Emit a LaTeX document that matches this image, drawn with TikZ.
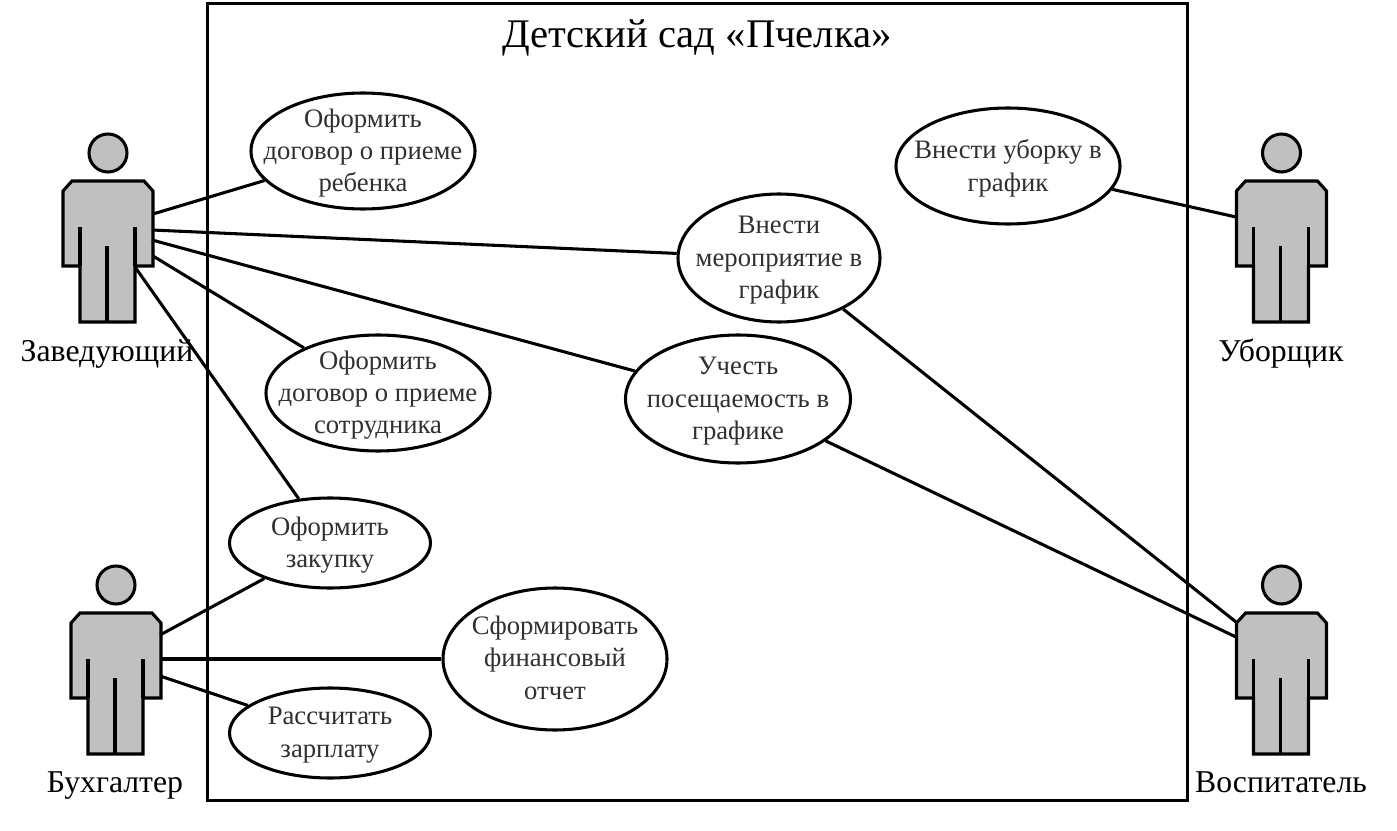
\documentclass[tikz,border=0pt]{standalone}
\usepackage{fontspec}
\setmainfont{Liberation Serif}
\usetikzlibrary{shapes.geometric}
\definecolor{actorgrey}{HTML}{C0C0C0}
\definecolor{usetext}{HTML}{303030}
\tikzset{
  x=0.75pt,y=-0.75pt,
  ln/.style={line width=2.3pt,line join=miter},
  usecase/.style={ellipse,draw,line width=2.3pt,fill=white,inner sep=0pt},
  casetext/.style={inner sep=0pt,align=center,text=usetext,font=\fontsize{20}{24.3}\selectfont,yshift=-1.6pt},
  actorlabel/.style={font=\fontsize{23.8}{27}\selectfont,inner sep=0pt,anchor=base},
  conn/.style={line width=2.3pt},
  pics/actorfig/.style={code={
    \draw[ln,fill=actorgrey] (0,0) circle[radius=19];
    \draw[ln,fill=actorgrey] (-36,28) -- (36,28) -- (45,38) -- (45,113) -- (27,113) -- (27,169)
      -- (-28,169) -- (-28,113) -- (-45,113) -- (-45,38) -- cycle;
    \draw[ln] (-28,74) -- (-28,113) (27,74) -- (27,113) (-1,93) -- (-1,169);
  }}
}
\begin{document}
\begin{tikzpicture}
\useasboundingbox (0,0) rectangle (1397,831);
\fill[white] (0,0) rectangle (1397,831);
\node[draw,ln,minimum width=980*0.75pt,minimum height=797*0.75pt,inner sep=0pt,anchor=north west] (frame) at (206,2) {};
\node[font=\fontsize{30.5}{36}\selectfont,inner sep=0pt] (title) at (697,38) {Детский сад «Пчелка»};

\pic at (108,153) {actorfig};
\pic at (116,585) {actorfig};
\pic at (1281.5,153) {actorfig};
\pic at (1281.5,585) {actorfig};

\node[actorlabel] (lzav) at (107,361) {Заведующий};
\node[actorlabel] (lbux) at (115,792) {Бухгалтер};
\node[actorlabel] (lubo) at (1281,361) {Уборщик};
\node[actorlabel] (lvos) at (1281,792) {Воспитатель};

\coordinate (z1) at (153,214);
\coordinate (z2) at (152,230);
\coordinate (z3) at (152,240);
\coordinate (z4) at (153,256);
\coordinate (z5) at (135,267);
\coordinate (b1) at (160,635);
\coordinate (b2) at (160,659);
\coordinate (b3) at (160,676);
\coordinate (u1) at (1236,217);
\coordinate (v1) at (1236,622);
\coordinate (v2) at (1236,637);

\node[usecase,minimum width=224*0.75pt,minimum height=116*0.75pt] (e1) at (363,151) {};
\node[usecase,minimum width=202*0.75pt,minimum height=128*0.75pt] (e2) at (779,258) {};
\node[usecase,minimum width=224*0.75pt,minimum height=116*0.75pt] (e3) at (1008,166) {};
\node[usecase,minimum width=224*0.75pt,minimum height=116*0.75pt] (e4) at (378,393) {};
\node[usecase,minimum width=225*0.75pt,minimum height=128*0.75pt] (e5) at (738,399) {};
\node[usecase,minimum width=201*0.75pt,minimum height=90*0.75pt] (e6) at (330,543) {};
\node[usecase,minimum width=224*0.75pt,minimum height=142*0.75pt] (e7) at (555,659) {};
\node[usecase,minimum width=201*0.75pt,minimum height=90*0.75pt] (e8) at (330,733) {};

\node[casetext] (t1) at (e1) {Оформить\\договор о приеме\\ребенка};
\node[casetext] (t2) at (e2) {Внести\\мероприятие в\\график};
\node[casetext] (t3) at (e3) {Внести уборку в\\график};
\node[casetext] (t4) at (e4) {Оформить\\договор о приеме\\сотрудника};
\node[casetext] (t5) at (e5) {Учесть\\посещаемость в\\графике};
\node[casetext] (t6) at (e6) {Оформить\\закупку};
\node[casetext,yshift=2.6pt] (t7) at (e7) {Сформировать\\финансовый\\отчет};
\node[casetext] (t8) at (e8) {Рассчитать\\зарплату};

\draw[conn] (z1) -- (e1);
\draw[conn] (z2) -- (e2);
\draw[conn] (z3) -- (e5);
\draw[conn] (z4) -- (e4);
\draw[conn] (z5) -- (e6);
\draw[conn] (b1) -- (e6);
\draw[conn] (b2) -- (e7);
\draw[conn] (b3) -- (e8);
\draw[conn] (u1) -- (e3);
\draw[conn] (v1) -- (e2);
\draw[conn] (v2) -- (e5);
\end{tikzpicture}
\end{document}
